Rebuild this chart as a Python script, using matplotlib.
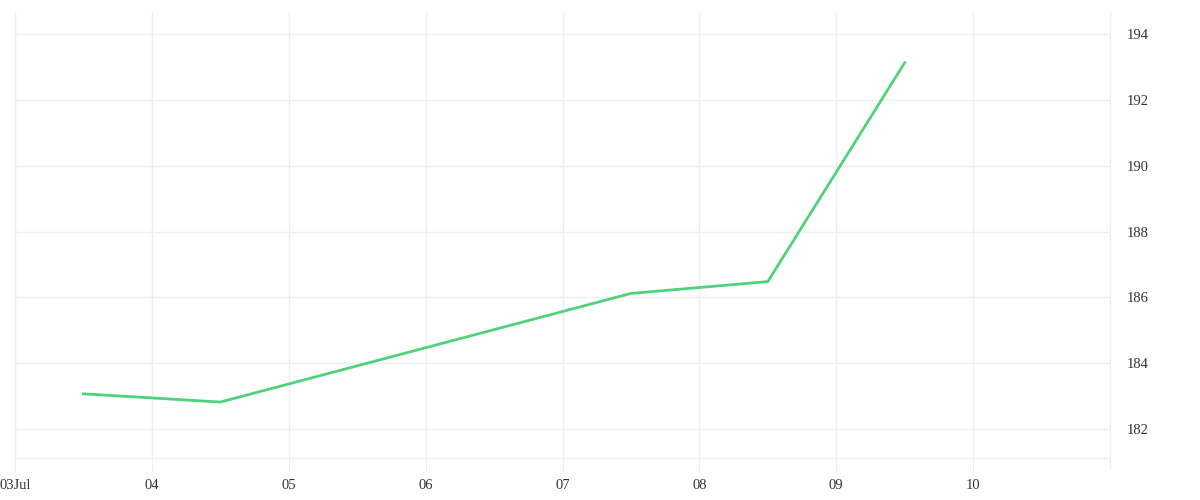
import matplotlib.pyplot as plt
import matplotlib.dates as mdates
from matplotlib.ticker import FuncFormatter
from datetime import datetime

# Data (closing values, noon of each trading day)
dates = ["2024-07-03 12:00", "2024-07-04 12:00", "2024-07-07 12:00",
         "2024-07-08 12:00", "2024-07-09 12:00"]
values = [183.07, 182.82, 186.12, 186.48, 193.13]
y_ticks = [182, 184, 186, 188, 190, 192, 194]

x = [datetime.strptime(d, "%Y-%m-%d %H:%M") for d in dates]

plt.rcParams["font.family"] = ["Liberation Serif", "DejaVu Serif"]

fig = plt.figure(figsize=(12, 5), dpi=100)
ax = fig.add_axes([0.0125, 0.084, 0.9125, 0.892])

ax.plot(x, values, color="#4fd27c", linewidth=2, solid_joinstyle="miter")

ax.set_xlim(mdates.date2num(datetime(2024, 7, 3)), mdates.date2num(datetime(2024, 7, 11)))
ax.set_ylim(181.12, 194.67)

ax.xaxis.set_major_locator(mdates.DayLocator(bymonthday=range(3, 11)))


def day_fmt(v, pos):
    d = mdates.num2date(v)
    return d.strftime("%dJul") if d.day == 3 else d.strftime("%d")


ax.xaxis.set_major_formatter(FuncFormatter(day_fmt))
ax.set_yticks(y_ticks)
ax.yaxis.tick_right()

# light grid and axis lines
grid_c = "#eeeeee"
ax.grid(True, color=grid_c, linewidth=1)
for s in ["top", "left"]:
    ax.spines[s].set_visible(False)
for s in ["bottom", "right"]:
    ax.spines[s].set_color(grid_c)
    ax.spines[s].set_linewidth(1)
ax.spines["right"].set_bounds(181.12 - 10 / 32.9, 194.67)
ax.spines["right"].set_clip_on(False)

ax.tick_params(axis="x", length=10, color=grid_c, labelsize=10.5, labelcolor="#333333", pad=5)
ax.tick_params(axis="y", length=0, labelsize=10.5, labelcolor="#333333", pad=12)

fig.savefig("out.png", dpi=100, facecolor="white")
